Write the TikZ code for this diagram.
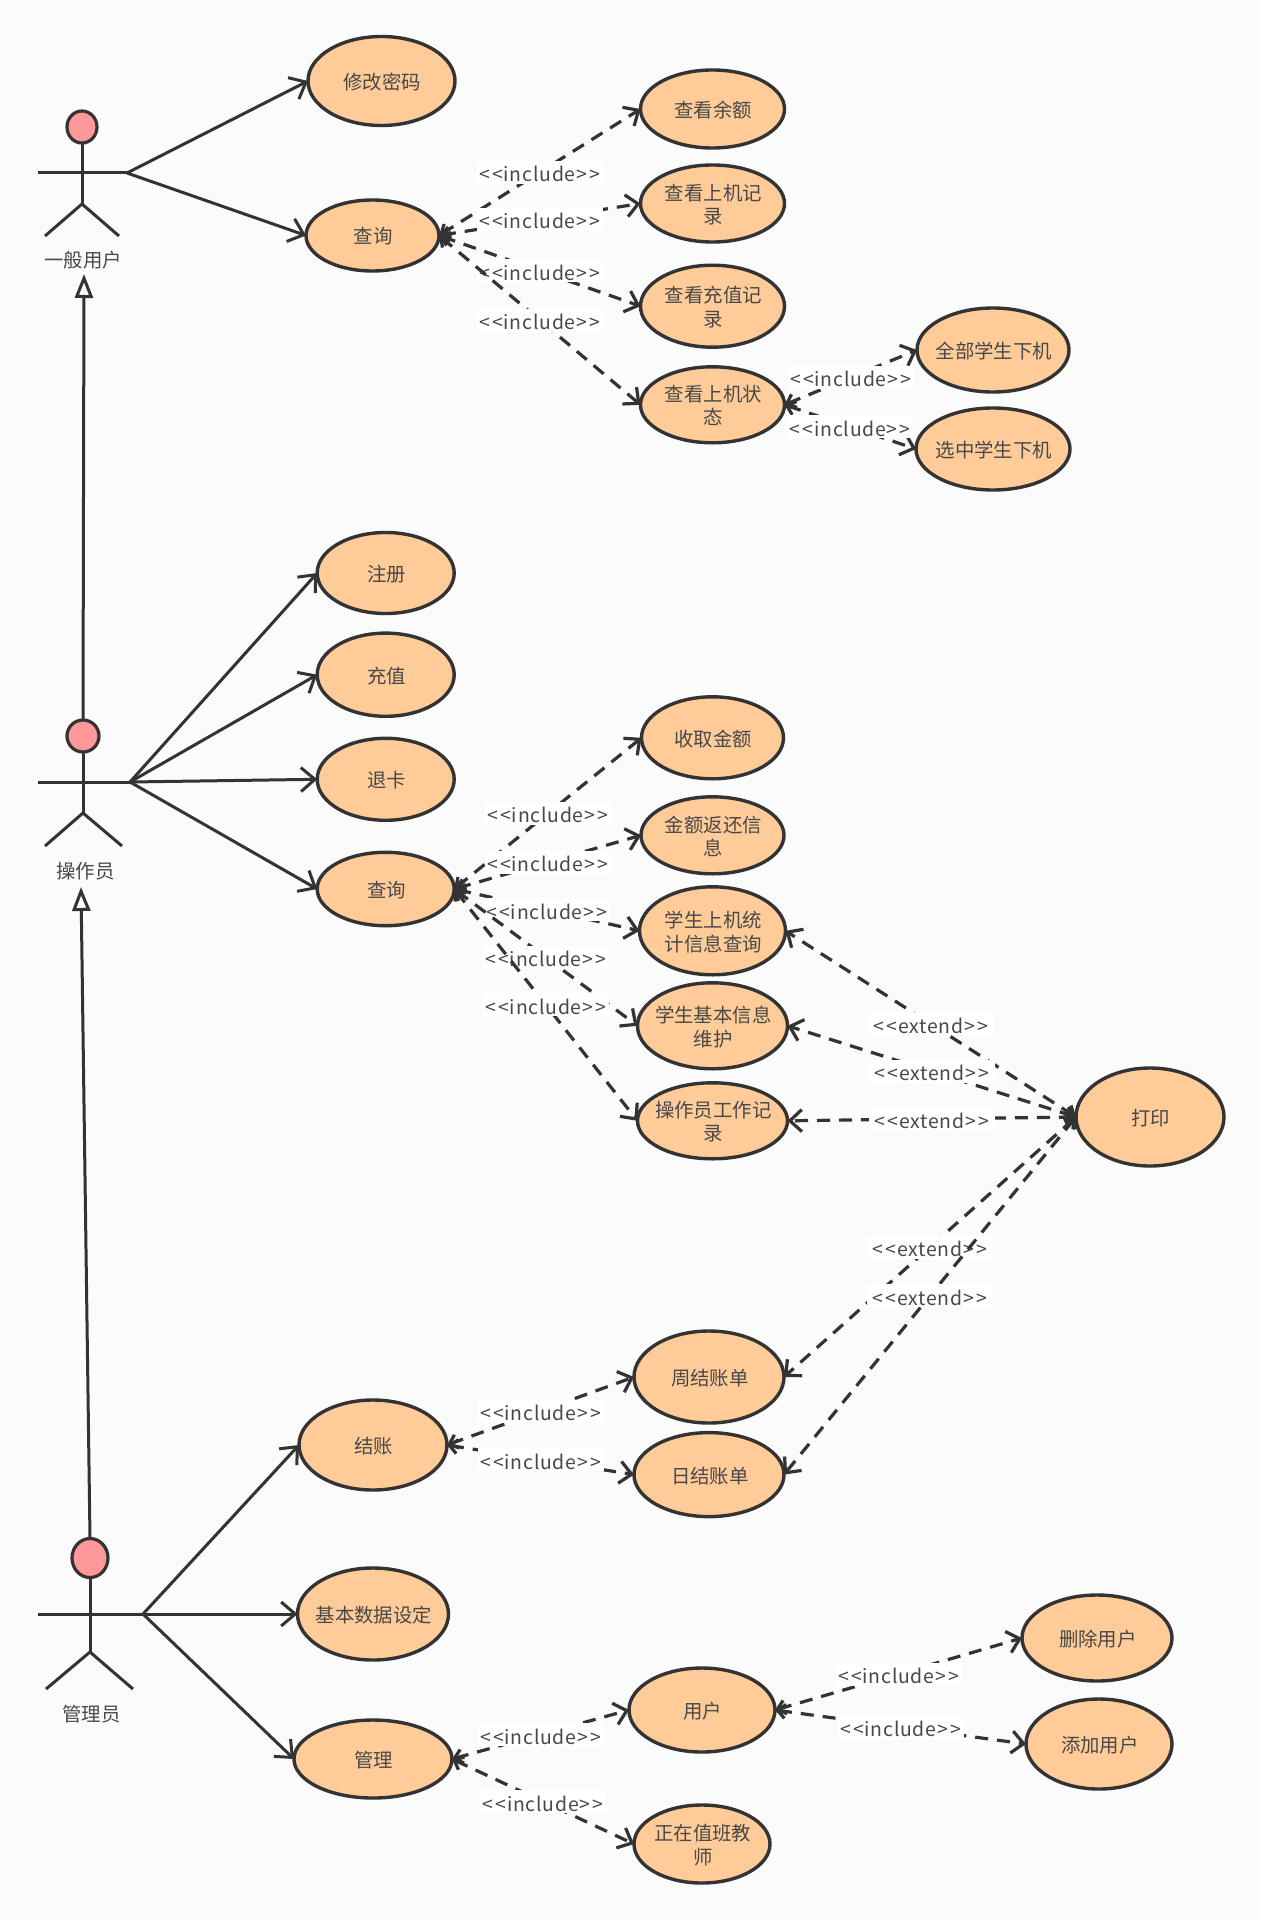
\documentclass[tikz,border=0pt]{standalone}
\usepackage{fontspec}
\setmainfont{Noto Sans CJK SC}
\newfontfamily\stereofont[LetterSpace=4]{Noto Sans CJK SC}
\usetikzlibrary{positioning, shapes.geometric, arrows.meta}

\begin{document}
\begin{tikzpicture}[x=.5pt, y=.5pt, yscale=-1]
    \definecolor{canvas}{HTML}{FBFBFB}
    \definecolor{inkline}{HTML}{333333}
    \definecolor{inktext}{HTML}{484848}
    \definecolor{casefill}{HTML}{FFCC99}
    \definecolor{headfill}{HTML}{FF9999}
    % Text may be wider than the ellipse rule allows, so it takes no room
    \newcommand*\nodetable[1]{%
        \smash{\hspace*{.8pt}\makebox[0pt]{\raisebox{-4.4pt}{%
            \begin{tabular}{@{}c@{}}#1\end{tabular}}}}%
    }
    \renewcommand*\arraystretch{.95}
    \tikzset{
        ucase/.style 2 args={ellipse, draw=inkline, fill=casefill, line width=1.7pt,
            inner sep=0pt, outer sep=0pt, minimum width=#1, minimum height=#2,
            text=inktext, font=\fontsize{9.7pt}{12.3pt}\selectfont},
        head/.style 2 args={ellipse, draw=inkline, fill=headfill, line width=1.6pt,
            inner sep=0pt, outer sep=0pt, minimum width=#1, minimum height=#2},
        actorname/.style={inner sep=0pt, text=inktext, font=\fontsize{9.7pt}{12pt}\selectfont},
        stick/.style={draw=inkline, line width=1.5pt},
        assoc/.style={stick, -{Straight Barb[length=7pt, width=12pt]}},
        dep/.style={stick, line width=1.6pt, dash pattern=on 6.5pt off 4.5pt,
            {Straight Barb[length=4pt, width=7pt]}-{Straight Barb[length=6pt, width=11pt]}},
        gener/.style={stick, -{Triangle[open, length=12pt, width=9pt]}},
        stereo/.style={fill=white, solid, inner sep=0pt, minimum width=63pt,
            text height=10.5pt, text depth=1pt,
            text=inktext, font=\stereofont\fontsize{9.7pt}{11pt}\selectfont},
    }

    \path [use as bounding box, fill=canvas] (0,0) rectangle (1260,1920);

    % GENERAL USER
    \node [head={15pt}{16pt}] (head1) at (82,127) {};
    \coordinate (arm1) at (38,173);
    \coordinate (hand1) at (127,173);
    \coordinate (hip1) at (82,204);
    \coordinate (footl1) at (45,236);
    \coordinate (footr1) at (119,236);
    \node [actorname] (name1) at (83,260) {一般用户};
    \coordinate (under1) at (84,274);

    % OPERATOR
    \node [head={16pt}{16pt}] (head2) at (83,736) {};
    \coordinate (arm2) at (38,782);
    \coordinate (hand2) at (130,782);
    \coordinate (hip2) at (83,813);
    \coordinate (footl2) at (45,846);
    \coordinate (footr2) at (122,846);
    \node [actorname] (name2) at (85.5,871) {操作员};
    \coordinate (under2) at (81,887);

    % MANAGER
    \node [head={18pt}{19.5pt}] (head3) at (90,1558) {};
    \coordinate (arm3) at (38,1614);
    \coordinate (hand3) at (143,1614);
    \coordinate (hip3) at (90,1652);
    \coordinate (footl3) at (46,1689);
    \coordinate (footr3) at (133,1689);
    \node [actorname] (name3) at (91.5,1714) {管理员};

    % QUERIES OF THE GENERAL USER
    \node [ucase={73.5pt}{44.5pt}] (xiugai) at (381.5,81) {\nodetable{修改密码}};
    \node [ucase={66.5pt}{35.5pt}] (chaxun) at (372.5,235.5) {\nodetable{查询}};
    \node [ucase={72pt}{39pt}] (yue) at (712.5,109) {\nodetable{查看余额}};
    \node [ucase={72pt}{38.5pt}, below = 8.5pt of yue] (jilu) {\nodetable{查看上机记\\录}};
    \node [ucase={72pt}{41pt}, below = 11.6pt of jilu] (chongzhi) {\nodetable{查看充值记\\录}};
    \node [ucase={72pt}{38pt}, below = 9.8pt of chongzhi] (zhuangtai) {\nodetable{查看上机状\\态}};
    \node [ucase={76pt}{42pt}] (quanbu) at (993,350) {\nodetable{全部学生下机}};
    \node [ucase={77pt}{41pt}, below = 8pt of quanbu] (xuanzhong) {\nodetable{选中学生下机}};

    % OPERATOR CASES
    \node [ucase={68.5pt}{40.5pt}] (zhuce) at (385.7,573) {\nodetable{注册}};
    \node [ucase={68.5pt}{41.6pt}, below = 9.8pt of zhuce] (chong) {\nodetable{充值}};
    \node [ucase={68.5pt}{41pt}, below = 11pt of chong] (tuika) {\nodetable{退卡}};
    \node [ucase={68.5pt}{36.7pt}, below = 16pt of tuika] (chaxunb) {\nodetable{查询}};

    % OPERATOR QUERIES
    \node [ucase={71pt}{41pt}] (shouqu) at (712.5,737.8) {\nodetable{收取金额}};
    \node [ucase={71.5pt}{38.5pt}, below = 9pt of shouqu] (fanhuan) {\nodetable{金额返还信\\息}};
    \node [ucase={73pt}{44pt}, below = 6.5pt of fanhuan] (tongji) {\nodetable{学生上机统\\计信息查询}};
    \node [ucase={75pt}{43pt}, below = 4pt of tongji] (jiben) {\nodetable{学生基本信息\\维护}};
    \node [ucase={75pt}{38pt}, below = 7pt of jiben] (gongzuo) {\nodetable{操作员工作记\\录}};
    \node [ucase={74pt}{49pt}] (dayin) at (1150,1117) {\nodetable{打印}};

    % MANAGER CASES
    \node [ucase={74pt}{45pt}] (jiezhang) at (373,1445) {\nodetable{结账}};
    \node [ucase={75.5pt}{46pt}, below = 39pt of jiezhang] (shezhi) {\nodetable{基本数据设定}};
    \node [ucase={79pt}{39pt}, below = 30pt of shezhi] (guanli) {\nodetable{管理}};
    \node [ucase={75pt}{46pt}] (zhou) at (709,1377) {\nodetable{周结账单}};
    \node [ucase={75pt}{42pt}, below = 4.8pt of zhou] (ri) {\nodetable{日结账单}};
    \node [ucase={73pt}{42pt}] (yonghu) at (702,1710) {\nodetable{用户}};
    \node [ucase={68pt}{39pt}] (zhiban) at (702,1844) {\nodetable{正在值班教\\师}};
    \node [ucase={75pt}{43pt}] (shanchu) at (1097,1638) {\nodetable{删除用户}};
    \node [ucase={73pt}{45pt}] (tianjia) at (1099,1744) {\nodetable{添加用户}};

    % Draw the stick figures
    \foreach \actoridx in {1, 2, 3} {
        \draw [stick] (head\actoridx) -- (hip\actoridx);
        \draw [stick] (arm\actoridx) -- (hand\actoridx);
        \draw [stick] (footl\actoridx) -- (hip\actoridx) -- (footr\actoridx);
    }

    % Generalisation arrows between actors
    \draw [gener] (head2.north) -- (under1);
    \draw [gener] (head3.north) -- (under2);

    % Actor to use case arrows
    \foreach \actoridx/\caseidx in {1/xiugai, 1/chaxun, 2/zhuce, 2/chong, 2/tuika, 2/chaxunb,
                                    3/jiezhang, 3/shezhi, 3/guanli}
        \draw [assoc] (hand\actoridx) -- (\caseidx.west);

    % Include arrows, left to right
    \foreach \srcidx/\dstidx in {chaxun/yue, chaxun/jilu, chaxun/chongzhi, chaxun/zhuangtai,
                                 zhuangtai/quanbu, zhuangtai/xuanzhong,
                                 chaxunb/shouqu, chaxunb/fanhuan, chaxunb/tongji, chaxunb/jiben, chaxunb/gongzuo,
                                 jiezhang/zhou, jiezhang/ri, guanli/yonghu, guanli/zhiban,
                                 yonghu/shanchu, yonghu/tianjia}
        \draw [dep] (\srcidx.east) -- node [stereo] {<\kern1.1pt<include>\kern1.1pt>} (\dstidx.west);

    % Extend arrows into the print case
    \foreach \srcidx in {tongji, jiben, gongzuo, zhou, ri}
        \draw [dep] (dayin.west) -- node [stereo] {<\kern1.1pt<extend>\kern1.1pt>} (\srcidx.east);
\end{tikzpicture}
\end{document}
